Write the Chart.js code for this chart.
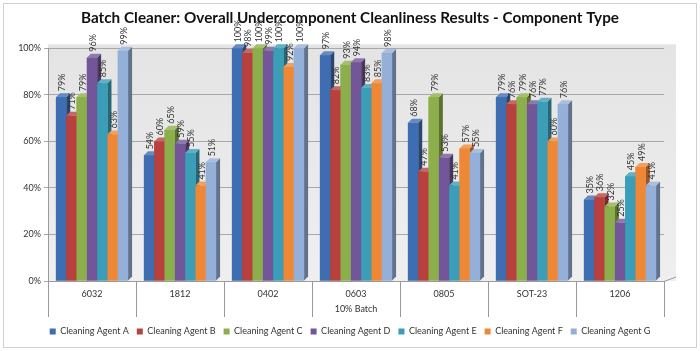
<!DOCTYPE html>
<html>
<head>
<meta charset="utf-8">
<script src="https://cdn.jsdelivr.net/npm/chart.js@4/dist/chart.umd.min.js"></script>
<style>
  html, body { margin: 0; padding: 0; background: #fff; }
  #wrap { width: 700px; height: 351px; }
</style>
</head>
<body>
<div id="wrap"><canvas id="c"></canvas></div>
<script>
const categories = ['6032', '1812', '0402', '0603', '0805', 'SOT-23', '1206'];
const agentA = [79, 54, 100, 97, 68, 79, 35];
const agentB = [71, 60, 98, 82, 47, 76, 36];
const agentC = [79, 65, 100, 93, 79, 79, 32];
const agentD = [96, 59, 99, 94, 53, 76, 25];
const agentE = [85, 55, 100, 83, 41, 77, 45];
const agentF = [63, 41, 92, 85, 57, 60, 49];
const agentG = [99, 51, 100, 98, 55, 76, 41];
const yTicks = [0, 20, 40, 60, 80, 100];

const seriesNames = ['Cleaning Agent A', 'Cleaning Agent B', 'Cleaning Agent C', 'Cleaning Agent D',
                     'Cleaning Agent E', 'Cleaning Agent F', 'Cleaning Agent G'];
const seriesValues = [agentA, agentB, agentC, agentD, agentE, agentF, agentG];
const colors = ['#3E6DB2', '#B9413D', '#8CAF4B', '#725699', '#3A9EB8', '#EE8837', '#94AFD8'];

function shade(hex, f) {
    let r = parseInt(hex.substr(1, 2), 16), g = parseInt(hex.substr(3, 2), 16), b = parseInt(hex.substr(5, 2), 16);
    if (f < 0) { r *= 1 + f; g *= 1 + f; b *= 1 + f; }
    else { r += (255 - r) * f; g += (255 - g) * f; b += (255 - b) * f; }
    return `rgb(${Math.round(r)},${Math.round(g)},${Math.round(b)})`;
}

const DEPTH = 4;

// back wall + outer border
const backdrop = {
    id: 'backdrop',
    beforeDraw(chart) {
        const { ctx, chartArea: a } = chart;
        ctx.save();
        ctx.strokeStyle = '#d0d0d0';
        ctx.lineWidth = 1;
        ctx.strokeRect(3.5, 3.5, chart.width - 7, chart.height - 7);
        const grad = ctx.createLinearGradient(0, a.top, 0, a.bottom);
        grad.addColorStop(0, '#e4e4e4');
        grad.addColorStop(1, '#efefef');
        ctx.fillStyle = grad;
        ctx.fillRect(a.left, a.top - DEPTH, a.right - a.left + DEPTH * 3, a.bottom - a.top + DEPTH);
        ctx.restore();
    }
};

// pseudo 3d columns, value labels, category separators
const columns3d = {
    id: 'columns3d',
    afterDatasetsDraw(chart) {
        const { ctx } = chart;
        ctx.save();
        const n = chart.data.labels.length;
        for (let j = 0; j < n; j++) {
            chart.data.datasets.forEach((ds, i) => {
                const el = chart.getDatasetMeta(i).data[j];
                const w = el.width, l = el.x - w / 2, r = el.x + w / 2;
                const top = el.y, base = el.base;
                ctx.fillStyle = shade(colors[i], -0.35);
                ctx.beginPath();
                ctx.moveTo(r, top); ctx.lineTo(r + DEPTH, top - DEPTH);
                ctx.lineTo(r + DEPTH, base - DEPTH); ctx.lineTo(r, base);
                ctx.closePath(); ctx.fill();
                ctx.fillStyle = shade(colors[i], 0.2);
                ctx.beginPath();
                ctx.moveTo(l, top); ctx.lineTo(l + DEPTH, top - DEPTH);
                ctx.lineTo(r + DEPTH, top - DEPTH); ctx.lineTo(r, top);
                ctx.closePath(); ctx.fill();
                ctx.fillStyle = colors[i];
                ctx.fillRect(l, top, w, base - top);
            });
        }
        // labels
        ctx.fillStyle = '#333';
        ctx.font = '9px Lato';
        ctx.textAlign = 'left';
        ctx.textBaseline = 'middle';
        chart.data.datasets.forEach((ds, i) => {
            chart.getDatasetMeta(i).data.forEach((el, j) => {
                ctx.save();
                ctx.translate(el.x + 1, el.y - DEPTH - 2);
                ctx.rotate(-Math.PI / 2);
                ctx.fillText(ds.data[j] + '%', 0, 0);
                ctx.restore();
            });
        });
        // category separators
        const xs = chart.scales.x, a = chart.chartArea;
        const step = xs.getPixelForValue(1) - xs.getPixelForValue(0);
        ctx.strokeStyle = '#9a9a9a';
        ctx.lineWidth = 1;
        ctx.beginPath();
        for (let k = 0; k <= n; k++) {
            const x = Math.round(xs.getPixelForValue(0) - step / 2 + k * step) + 0.5;
            ctx.moveTo(x, a.bottom);
            ctx.lineTo(x, a.bottom + 36);
        }
        ctx.moveTo(a.left, a.bottom + 0.5);
        ctx.lineTo(a.right, a.bottom + 0.5);
        ctx.lineTo(a.right + DEPTH * 3, a.bottom - DEPTH);
        ctx.stroke();
        ctx.restore();
    }
};

new Chart(document.getElementById('c'), {
    type: 'bar',
    data: {
        labels: categories,
        datasets: seriesNames.map((name, i) => ({
            label: name,
            data: seriesValues[i],
            backgroundColor: colors[i],
            borderWidth: 0,
            categoryPercentage: 0.82,
            barPercentage: 1.0
        }))
    },
    options: {
        responsive: true,
        maintainAspectRatio: false,
        animation: false,
        layout: { padding: { left: 0, right: 0, top: 0, bottom: 5 } },
        scales: {
            y: {
                min: 0,
                max: 100,
                afterBuildTicks: s => { s.ticks = yTicks.map(v => ({ value: v })); },
                afterFit: s => { s.width = 48; },
                ticks: {
                    color: '#333',
                    font: { family: 'Lato', size: 9 },
                    padding: 3,
                    callback: v => v + '%'
                },
                grid: { color: '#a8a8a8', tickLength: 4 },
                border: { color: '#9a9a9a' }
            },
            spacer: {
                position: 'right',
                afterFit: s => { s.width = 36; },
                ticks: { display: false },
                grid: { display: false },
                border: { display: false }
            },
            x: {
                afterFit: s => { s.height = 38; },
                ticks: { color: '#333', font: { family: 'Lato', size: 9 }, padding: 0 },
                grid: { display: false },
                border: { display: false },
                title: {
                    display: true,
                    text: '10% Batch',
                    color: '#333',
                    font: { family: 'Lato', size: 9 },
                    padding: { top: 0, bottom: 5 }
                }
            }
        },
        plugins: {
            title: {
                display: true,
                text: 'Batch Cleaner: Overall Undercomponent Cleanliness Results - Component Type',
                color: '#111',
                font: { family: 'Lato', size: 15.3, weight: 'bold' },
                padding: { top: 9, bottom: 21 }
            },
            legend: {
                position: 'bottom',
                labels: {
                    color: '#333',
                    font: { family: 'Lato', size: 9 },
                    boxWidth: 6,
                    boxHeight: 6,
                    padding: 8
                }
            },
            tooltip: { enabled: false }
        }
    },
    plugins: [backdrop, columns3d]
});
</script>
</body>
</html>
